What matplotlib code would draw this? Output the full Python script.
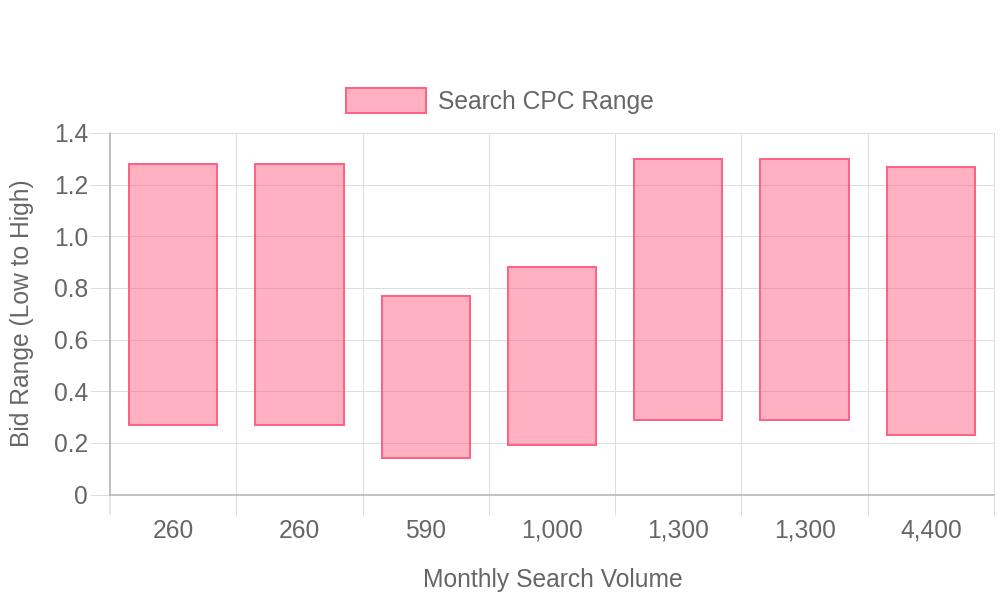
import matplotlib
matplotlib.use('Agg')
import matplotlib.pyplot as plt
from matplotlib.patches import Rectangle

# ---- data ----
volumes = ["260", "260", "590", "1,000", "1,300", "1,300", "4,400"]
cpc_low = [0.27, 0.27, 0.14, 0.19, 0.29, 0.29, 0.23]
cpc_high = [1.28, 1.28, 0.77, 0.88, 1.30, 1.30, 1.27]
y_ticks = [0, 0.2, 0.4, 0.6, 0.8, 1.0, 1.2, 1.4]
y_tick_labels = ["0", "0.2", "0.4", "0.6", "0.8", "1.0", "1.2", "1.4"]
series_name = "Search CPC Range"
x_title = "Monthly Search Volume"
y_title = "Bid Range (Low to High)"

# ---- style ----
plt.rcParams['font.family'] = ['Liberation Sans', 'DejaVu Sans']
W, H = 1000, 600
PX = 0.72  # points per pixel at dpi 100
FS = 24.6 * PX
TXT = '#666666'
GRID = '#dedede'
AXIS = '#b0b0b0'
FILL = (1.0, 99/255, 132/255, 0.5)
EDGE = (1.0, 99/255, 132/255, 1.0)

fig = plt.figure(figsize=(W/100, H/100), dpi=100)

def fx(px):
    return px / W

def fy(py):
    return 1 - py / H

left, right, top, bottom = 110, 994, 133, 494.5
ax = fig.add_axes([fx(left), fy(bottom), (right-left)/W, (bottom-top)/H])

x = list(range(len(volumes)))
heights = [h - l for h, l in zip(cpc_high, cpc_low)]
ax.bar(x, heights, bottom=cpc_low, width=0.7, color=FILL, edgecolor=EDGE,
       linewidth=2*PX, zorder=3)

ax.set_xlim(-0.5, len(volumes) - 0.5)
ax.set_ylim(0, 1.4)
ax.set_axisbelow(True)

ax.set_yticks(y_ticks)
ax.set_yticklabels(y_tick_labels)
ax.set_xticks(x)
ax.set_xticklabels(volumes)
ax.set_xticks([i - 0.5 for i in range(len(volumes) + 1)], minor=True)

ax.tick_params(axis='y', which='major', length=20*PX, width=1*PX, color=GRID,
               labelsize=FS, labelcolor=TXT, pad=1.5)
ax.tick_params(axis='x', which='major', length=0, labelsize=FS, labelcolor=TXT, pad=17.5)
ax.tick_params(axis='x', which='minor', length=20*PX, width=1*PX, color=GRID)

ax.grid(True, axis='y', which='major', color=GRID, linewidth=1*PX)
ax.grid(True, axis='x', which='minor', color=GRID, linewidth=1*PX)

for s in ['top', 'right']:
    ax.spines[s].set_color(GRID)
    ax.spines[s].set_linewidth(1*PX)
for s in ['left', 'bottom']:
    ax.spines[s].set_color(AXIS)
    ax.spines[s].set_linewidth(1.5*PX)

mt = ax.xaxis.get_minor_ticks()
mt[0].tick1line.set_color(AXIS)
mt[0].tick1line.set_markeredgewidth(1.5*PX)

# axis titles
fig.text(fx(553), fy(587), x_title, ha='center', va='baseline', fontsize=FS, color=TXT)
fig.text(fx(22), fy(313.5), y_title, ha='center', va='center', rotation=90,
         fontsize=FS, color=TXT)

# legend
fig.patches.append(Rectangle((fx(346), fy(113)), 80/W, 25/H, transform=fig.transFigure,
                             facecolor=FILL, edgecolor=EDGE, linewidth=2*PX))
fig.text(fx(438), fy(108.5), series_name, ha='left', va='baseline', fontsize=FS, color=TXT)

fig.savefig('out.png', dpi=100)
